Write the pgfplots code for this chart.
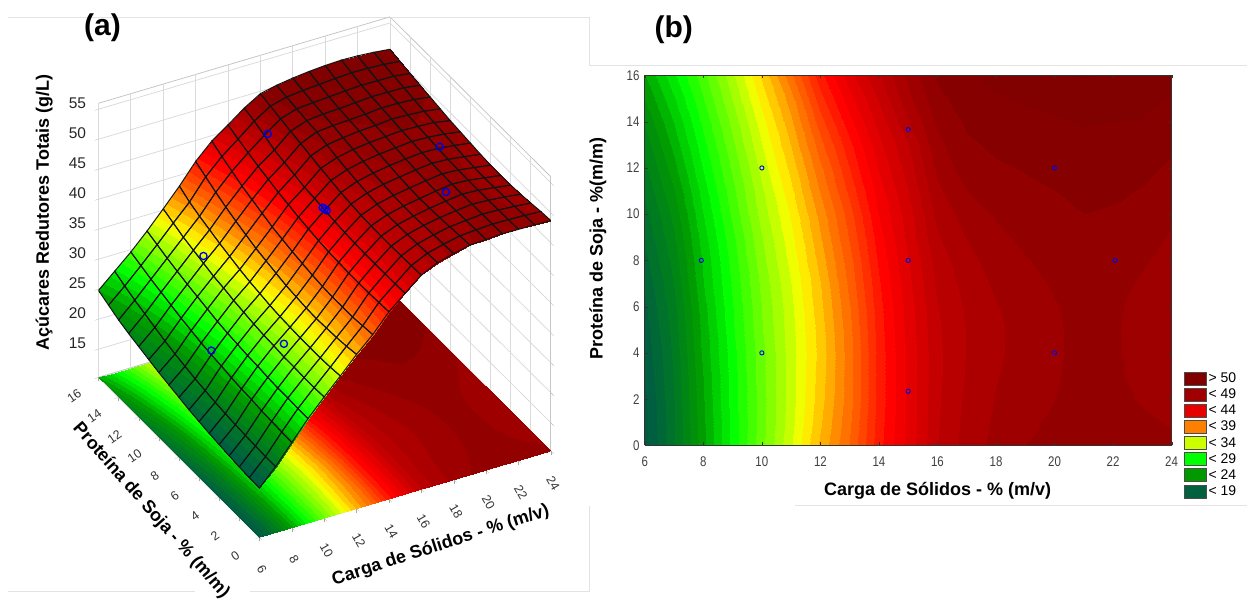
\documentclass[border=0pt]{standalone}
\usepackage{pgfplots}
\usepackage{pgfplotstable}
\usepackage{fontspec}
\setmainfont{Liberation Sans}
\pgfplotsset{compat=1.18}
\pgfplotstableread[row sep=\\]{
x y z\\
6 0 18.5\\7 0 21.3\\8 0 24.5\\9 0 27.7\\10 0 30.5\\11 0 33.2\\12 0 36.0\\13 0 38.5\\14 0 41.5\\15 0 43.8\\16 0 46.0\\17 0 47.3\\18 0 48.0\\19 0 48.6\\20 0 48.75\\21 0 48.9\\22 0 48.85\\23 0 48.8\\24 0 48.7\\
6 1 18.6\\7 1 21.3\\8 1 24.6\\9 1 27.7\\10 1 30.4\\11 1 33.0\\12 1 35.7\\13 1 38.3\\14 1 41.4\\15 1 43.7\\16 1 45.95\\17 1 47.2\\18 1 47.9\\19 1 48.5\\20 1 48.7\\21 1 48.85\\22 1 48.8\\23 1 48.7\\24 1 48.55\\
6 2 18.7\\7 2 21.4\\8 2 24.7\\9 2 27.8\\10 2 30.4\\11 2 32.9\\12 2 35.5\\13 2 38.1\\14 2 41.3\\15 2 43.7\\16 2 45.9\\17 2 47.1\\18 2 47.8\\19 2 48.35\\20 2 48.6\\21 2 48.85\\22 2 48.75\\23 2 48.55\\24 2 48.3\\
6 3 18.9\\7 3 21.5\\8 3 24.8\\9 3 27.8\\10 3 30.5\\11 3 32.9\\12 3 35.4\\13 3 38.1\\14 3 41.3\\15 3 43.7\\16 3 45.85\\17 3 47.0\\18 3 47.7\\19 3 48.2\\20 3 48.55\\21 3 48.85\\22 3 48.7\\23 3 48.45\\24 3 48.1\\
6 4 19.1\\7 4 21.6\\8 4 25.0\\9 4 27.9\\10 4 30.5\\11 4 32.9\\12 4 35.3\\13 4 38.1\\14 4 41.3\\15 4 43.7\\16 4 45.85\\17 4 46.95\\18 4 47.6\\19 4 48.1\\20 4 48.5\\21 4 48.85\\22 4 48.7\\23 4 48.35\\24 4 47.95\\
6 5 19.3\\7 5 21.8\\8 5 25.1\\9 5 28.1\\10 5 30.7\\11 5 33.0\\12 5 35.4\\13 5 38.2\\14 5 41.4\\15 5 43.8\\16 5 45.9\\17 5 46.95\\18 5 47.6\\19 5 48.05\\20 5 48.5\\21 5 48.85\\22 5 48.7\\23 5 48.3\\24 5 47.9\\
6 6 19.6\\7 6 22.0\\8 6 25.3\\9 6 28.2\\10 6 30.8\\11 6 33.1\\12 6 35.6\\13 6 38.4\\14 6 41.5\\15 6 43.9\\16 6 46.0\\17 6 47.05\\18 6 47.7\\19 6 48.15\\20 6 48.55\\21 6 48.9\\22 6 48.75\\23 6 48.35\\24 6 47.95\\
6 7 19.9\\7 7 22.3\\8 7 25.6\\9 7 28.4\\10 7 31.0\\11 7 33.3\\12 7 35.8\\13 7 38.7\\14 7 41.7\\15 7 44.1\\16 7 46.2\\17 7 47.25\\18 7 47.9\\19 7 48.3\\20 7 48.7\\21 7 49.0\\22 7 48.85\\23 7 48.5\\24 7 48.1\\
6 8 20.3\\7 8 22.6\\8 8 25.8\\9 8 28.6\\10 8 31.3\\11 8 33.6\\12 8 36.2\\13 8 39.0\\14 8 42.0\\15 8 44.3\\16 8 46.45\\17 8 47.5\\18 8 48.1\\19 8 48.55\\20 8 48.85\\21 8 49.1\\22 8 49.0\\23 8 48.7\\24 8 48.3\\
6 9 20.7\\7 9 23.0\\8 9 26.1\\9 9 28.9\\10 9 31.6\\11 9 33.9\\12 9 36.6\\13 9 39.4\\14 9 42.3\\15 9 44.6\\16 9 46.8\\17 9 47.8\\18 9 48.4\\19 9 48.8\\20 9 49.05\\21 9 49.3\\22 9 49.2\\23 9 48.95\\24 9 48.5\\
6 10 21.1\\7 10 23.4\\8 10 26.5\\9 10 29.3\\10 10 32.0\\11 10 34.3\\12 10 37.0\\13 10 39.8\\14 10 42.7\\15 10 44.8\\16 10 47.15\\17 10 48.15\\18 10 48.7\\19 10 49.05\\20 10 49.25\\21 10 49.45\\22 10 49.35\\23 10 49.2\\24 10 48.7\\
6 11 21.6\\7 11 23.9\\8 11 26.9\\9 11 29.7\\10 11 32.3\\11 11 34.8\\12 11 37.6\\13 11 40.4\\14 11 43.1\\15 11 45.2\\16 11 47.55\\17 11 48.6\\18 11 49.0\\19 11 49.3\\20 11 49.45\\21 11 49.7\\22 11 49.6\\23 11 49.4\\24 11 49.0\\
6 12 22.1\\7 12 24.5\\8 12 27.4\\9 12 30.1\\10 12 32.8\\11 12 35.3\\12 12 38.2\\13 12 41.0\\14 12 43.6\\15 12 45.6\\16 12 47.95\\17 12 49.1\\18 12 49.35\\19 12 49.5\\20 12 49.65\\21 12 49.9\\22 12 49.85\\23 12 49.7\\24 12 49.3\\
6 13 22.6\\7 13 25.1\\8 13 27.9\\9 13 30.6\\10 13 33.3\\11 13 35.9\\12 13 38.9\\13 13 41.6\\14 13 44.1\\15 13 46.0\\16 13 48.35\\17 13 49.3\\18 13 49.6\\19 13 49.7\\20 13 49.9\\21 13 50.1\\22 13 50.05\\23 13 50.0\\24 13 49.6\\
6 14 23.2\\7 14 25.7\\8 14 28.4\\9 14 31.1\\10 14 33.8\\11 14 36.5\\12 14 39.7\\13 14 42.4\\14 14 44.7\\15 14 46.8\\16 14 48.75\\17 14 49.6\\18 14 49.85\\19 14 50.0\\20 14 50.2\\21 14 50.35\\22 14 50.3\\23 14 50.25\\24 14 49.9\\
6 15 24.0\\7 15 26.4\\8 15 29.0\\9 15 31.7\\10 15 34.5\\11 15 37.2\\12 15 40.6\\13 15 43.2\\14 15 45.3\\15 15 47.5\\16 15 49.2\\17 15 49.9\\18 15 50.2\\19 15 50.4\\20 15 50.6\\21 15 50.75\\22 15 50.7\\23 15 50.55\\24 15 50.25\\
6 16 24.8\\7 16 27.2\\8 16 29.6\\9 16 32.3\\10 16 35.2\\11 16 38.2\\12 16 41.5\\13 16 44.1\\14 16 46.0\\15 16 48.0\\16 16 49.6\\17 16 50.2\\18 16 50.6\\19 16 50.9\\20 16 51.1\\21 16 51.2\\22 16 51.1\\23 16 50.9\\24 16 50.6\\
}\dataT
\definecolor{c19}{RGB}{0,96,64}
\definecolor{c24}{RGB}{0,153,0}
\definecolor{c29}{RGB}{0,255,0}
\definecolor{c34}{RGB}{204,255,0}
\definecolor{c39}{RGB}{255,128,0}
\definecolor{c44}{RGB}{230,0,0}
\definecolor{c49}{RGB}{160,0,0}
\definecolor{c50}{RGB}{128,0,0}
\pgfplotsset{
  colormap={statc}{
    rgb255(18)=(0,90,64) rgb255(19)=(0,96,64) rgb255(24)=(0,153,0) rgb255(27.5)=(0,255,0)
    rgb255(33)=(204,255,0) rgb255(34)=(255,255,0) rgb255(37.5)=(255,128,0)
    rgb255(42.5)=(255,0,0) rgb255(44)=(230,0,0) rgb255(46)=(195,0,0) rgb255(47.75)=(170,0,0)
    rgb255(48.6)=(157,0,0) rgb255(49.45)=(146,0,0) rgb255(50.3)=(133,0,0) rgb255(52)=(125,0,0)
  },
  colormap={stat}{samples of colormap=(40 of statc)},
  /pgf/number format/assume math mode=true,
}
\begin{document}
\begin{tikzpicture}[x=1pt,y=1pt]
\path (0,0) rectangle (1247,614);
% pasted-image frame remnants
\draw[gray!22,line width=.8pt] (8,597)--(590,597)--(590,549)--(1247,549);
\draw[gray!22,line width=.8pt] (8,22)--(195,22) (250,22)--(590,22)--(590,108);
\draw[gray!22,line width=.8pt] (795,108)--(1247,108);
\node[font=\bfseries\fontsize{30}{30}\selectfont] at (102.5,586) {(a)};
\node[font=\bfseries\fontsize{30}{30}\selectfont] at (674,584) {(b)};
\begin{axis}[
  at={(98.5pt,76.5pt)}, anchor=south west,
  x={(16.2pt,4.8pt)}, y={(-10.06pt,10pt)}, z={(0pt,6pt)},
  xmin=6,xmax=24,ymin=0,ymax=16,zmin=10.3,zmax=56,
  xtick={6,8,...,24}, ytick={0,2,...,16}, ztick={15,20,...,55},
  xtick pos=left, ytick pos=left, ztick pos=left,
  grid=major, grid style={gray!28,line width=.8pt},
  axis line style={gray!45,line width=.8pt},
  major tick style={gray!70}, tick align=outside, major tick length=4pt,
  colormap name=stat, colormap access=piecewise constant,
  point meta min=18, point meta max=52,
  xticklabel style={rotate=-60,anchor=center,xshift=25pt,yshift=-15pt,font=\fontsize{12.5}{12.5}\selectfont,text=black!80},
  yticklabel style={rotate=35,anchor=center,xshift=-27pt,yshift=-3pt,font=\fontsize{12.5}{12.5}\selectfont,text=black!80},
  zticklabel style={font=\fontsize{15.5}{15.5}\selectfont,text=black!85,xshift=-6pt},
  xlabel={Carga de Sólidos - \% (m/v)}, ylabel={Proteína de Soja - \% (m/m)},
  zlabel={Açúcares Redutores Totais (g/L)},
  xlabel style={at={(rel axis cs:.457,-.299,0)},anchor=center,rotate=18,font=\bfseries\fontsize{18}{18}\selectfont},
  ylabel style={at={(rel axis cs:-.216,.282,0)},anchor=center,rotate=-48.6,font=\bfseries\fontsize{18}{18}\selectfont},
  zlabel style={at={(rel axis cs:-.07,1.21,.5)},anchor=center,rotate=0,font=\bfseries\fontsize{18}{18}\selectfont},
]
\addplot3[surf,shader=interp,mesh/rows=17,mesh/cols=19,point meta=\thisrow{z}] table[x=x,y=y,z expr=10.3] {\dataT};
\addplot3[surf,shader=interp,mesh/rows=17,mesh/cols=19,z buffer=sort,point meta=\thisrow{z}] table[x=x,y=y,z=z] {\dataT};
\addplot3[mesh,draw=black!92,line width=1pt,mesh/rows=17,mesh/cols=19] table[x=x,y=y,z=z] {\dataT};
\addplot3[only marks,mark=o,mark size=3.6pt,mark options={blue!90!black,line width=1.3pt}] coordinates {
 (15,13.66,47.6) (15,8,44.5) (15,7.8,44.6) (15,8.2,44.4) (22.1,8,49.2) (20,4,50) (10,12,34) (8,8,26.5) (10,4,32.7)};
\end{axis}
\begin{axis}[
  at={(645pt,168.5pt)}, anchor=south west, width=527pt, height=370pt, scale only axis,
  view={0}{90},
  xmin=6,xmax=24,ymin=0,ymax=16,
  xtick={6,8,...,24}, ytick={0,2,...,16},
  tick align=inside, major tick length=3pt, axis line style={black!80,line width=.8pt},
  major tick style={black!80},
  colormap name=stat, colormap access=piecewise constant,
  point meta min=18, point meta max=52,
  ticklabel style={font=\fontsize{14}{14}\selectfont,text=black!75,xscale=.82},
  xticklabel style={yshift=-8pt},
  yticklabel style={xshift=-3pt},
  xlabel={Carga de Sólidos - \% (m/v)}, ylabel={Proteína de Soja - \%(m/m)},
  xlabel style={at={(axis description cs:.556,-.123)},anchor=center,font=\bfseries\fontsize{18}{18}\selectfont},
  ylabel style={at={(axis description cs:-.089,.532)},anchor=center,rotate=0,font=\bfseries\fontsize{18}{18}\selectfont},
  legend style={at={(rel axis cs:1,0)},anchor=south west,xshift=12pt,yshift=-54pt,draw=none,fill=none,
    font=\fontsize{14}{14}\selectfont,row sep=.9pt,inner sep=0pt,cells={anchor=west}},
  legend cell align=left,
]
\addplot3[surf,shader=interp,mesh/rows=17,mesh/cols=19,point meta=\thisrow{z},forget plot] table[x=x,y=y,z=z] {\dataT};
\addplot3[only marks,mark=o,mark size=2.1pt,mark options={blue!90!black,line width=.9pt},forget plot] coordinates {
 (7.93,8,60) (10,12,60) (10,4,60) (15,13.66,60) (15,8,60) (15,2.34,60) (20,12,60) (20,4,60) (22.07,8,60)};
\pgfplotsset{legsq/.style={legend image code/.code={\draw[##1,draw=black!70,line width=.8pt] (0pt,-6.5pt) rectangle (22pt,6.5pt);}}}
\addlegendimage{legsq,fill=c50}\addlegendentry{> 50}
\addlegendimage{legsq,fill=c49}\addlegendentry{< 49}
\addlegendimage{legsq,fill=c44}\addlegendentry{< 44}
\addlegendimage{legsq,fill=c39}\addlegendentry{< 39}
\addlegendimage{legsq,fill=c34}\addlegendentry{< 34}
\addlegendimage{legsq,fill=c29}\addlegendentry{< 29}
\addlegendimage{legsq,fill=c24}\addlegendentry{< 24}
\addlegendimage{legsq,fill=c19}\addlegendentry{< 19}
\end{axis}
\end{tikzpicture}
\end{document}
